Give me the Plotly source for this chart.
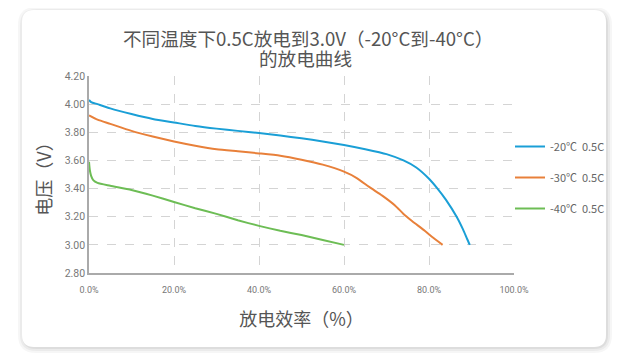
import plotly.graph_objects as go

# ---------------- data ----------------
x_20 = [0, 0.5, 2, 5, 10, 15, 20, 25, 30, 35, 40, 45, 50, 55, 60, 65, 70, 74, 77, 80, 82, 84, 86.5, 88, 89, 89.6]
v_20 = [4.03, 4.015, 4.0, 3.97, 3.93, 3.895, 3.87, 3.845, 3.826, 3.81, 3.795, 3.777, 3.757, 3.735, 3.71, 3.68, 3.645, 3.60, 3.55, 3.47, 3.40, 3.32, 3.20, 3.11, 3.04, 3.0]

x_30 = [0, 2, 5, 10, 15, 20, 25, 30, 35, 40, 45, 50, 55, 60, 63, 66, 69, 72, 74, 76, 79, 81, 83.2]
v_30 = [3.92, 3.89, 3.86, 3.81, 3.77, 3.735, 3.705, 3.68, 3.665, 3.65, 3.633, 3.605, 3.57, 3.52, 3.475, 3.41, 3.35, 3.28, 3.22, 3.17, 3.10, 3.05, 3.0]

x_40 = [0, 0.2, 0.5, 1, 2, 5, 10, 15, 20, 25, 30, 35, 40, 45, 50, 55, 60]
v_40 = [3.59, 3.53, 3.49, 3.46, 3.44, 3.42, 3.39, 3.35, 3.305, 3.26, 3.22, 3.175, 3.135, 3.10, 3.07, 3.035, 3.0]

series_names = ["-20℃  0.5C", "-30℃  0.5C", "-40℃  0.5C"]
series_colors = ["#1a9fd6", "#e8803a", "#6dbd55"]

x_ticks = [0, 20, 40, 60, 80, 100]
x_tick_labels = ["0.0%", "20.0%", "40.0%", "60.0%", "80.0%", "100.0%"]
y_ticks = [2.8, 3.0, 3.2, 3.4, 3.6, 3.8, 4.0, 4.2]
y_tick_labels = ["2.80", "3.00", "3.20", "3.40", "3.60", "3.80", "4.00", "4.20"]

title_line1 = "不同温度下0.5C放电到3.0V（-20°C到-40°C）"
title_line2 = "的放电曲线"
x_title = "放电效率（%）"
y_title = "电压（V）"

# ---------------- figure ----------------
W, H = 629, 359
OFF = 8  # page body margin offset
L, T = 89 - OFF, 76 - OFF
R = W - (514 - OFF)
B = H - (273 - OFF)
pw, ph = W - L - R, H - T - B


def px(x):
    return (x - OFF - L) / pw


def py(y):
    return (H - B - (y - OFF)) / ph


def rounded_path(x0, y0, x1, y1, r):
    pts = [
        f"M {px(x0 + r)} {py(y0)}",
        f"L {px(x1 - r)} {py(y0)}",
        f"Q {px(x1)} {py(y0)} {px(x1)} {py(y0 + r)}",
        f"L {px(x1)} {py(y1 - r)}",
        f"Q {px(x1)} {py(y1)} {px(x1 - r)} {py(y1)}",
        f"L {px(x0 + r)} {py(y1)}",
        f"Q {px(x0)} {py(y1)} {px(x0)} {py(y1 - r)}",
        f"L {px(x0)} {py(y0 + r)}",
        f"Q {px(x0)} {py(y0)} {px(x0 + r)} {py(y0)}",
        "Z",
    ]
    return " ".join(pts)


fig = go.Figure()

for i, (xs, vs) in enumerate([(x_20, v_20), (x_30, v_30), (x_40, v_40)]):
    fig.add_trace(go.Scatter(
        x=xs, y=vs, mode="lines", name=series_names[i],
        line=dict(color=series_colors[i], width=2, shape="spline", smoothing=0.6),
        legendgroup=f"g{i}",
    ))

shapes = []
for k, op in [(6, 0.035), (4, 0.045), (2, 0.06)]:
    shapes.append(dict(type="path", xref="paper", yref="paper", layer="below",
                       path=rounded_path(22 - k + 2, 10 - k + 3, 606 + k, 347 + k, 12 + k),
                       fillcolor=f"rgba(0,0,0,{op})", line=dict(width=0)))
shapes.append(dict(type="path", xref="paper", yref="paper", layer="below",
                   path=rounded_path(22, 10, 606, 347, 12),
                   fillcolor="white", line=dict(width=0)))

title_font = dict(size=18.6, color="#555", family="Noto Sans CJK SC")

fig.update_layout(
    width=W, height=H,
    margin=dict(l=L, r=R, t=T, b=B, pad=0),
    paper_bgcolor="white",
    plot_bgcolor="rgba(0,0,0,0)",
    shapes=shapes,
    font=dict(family="Noto Sans CJK SC, Noto Sans, sans-serif", color="#555"),
    annotations=[
        dict(text=title_line1, xref="paper", yref="paper", x=px(308), y=py(37.5),
             xanchor="center", yanchor="middle", showarrow=False, font=title_font),
        dict(text=title_line2, xref="paper", yref="paper", x=px(305), y=py(57.5),
             xanchor="center", yanchor="middle", showarrow=False, font=title_font),
    ],
    showlegend=True,
    legend=dict(x=px(510), xanchor="left", y=py(132), yanchor="top",
                font=dict(size=11, color="#666", family="Noto Sans CJK SC"),
                tracegroupgap=12, itemwidth=30, bgcolor="rgba(0,0,0,0)"),
    xaxis=dict(
        range=[0, 100], tickvals=x_ticks, ticktext=x_tick_labels,
        showgrid=True, gridcolor="#d4d4d4", griddash="dash", gridwidth=1,
        showline=True, linecolor="#aaaaaa", linewidth=2,
        ticks="", zeroline=False, ticklabelstandoff=7,
        tickfont=dict(size=9, color="#777", family="Roboto"),
        title=dict(text=x_title, font=dict(size=18, color="#555", family="Noto Sans CJK SC"), standoff=20),
    ),
    yaxis=dict(
        range=[2.8, 4.2], tickvals=y_ticks, ticktext=y_tick_labels,
        showgrid=True, gridcolor="#d4d4d4", griddash="dash", gridwidth=1,
        showline=True, linecolor="#aaaaaa", linewidth=1.5,
        ticks="", zeroline=False,
        tickfont=dict(size=10.5, color="#777", family="Roboto"),
        title=dict(text=y_title, font=dict(size=18, color="#555", family="Noto Sans CJK SC"), standoff=8),
    ),
)

fig.write_html("out.html")
